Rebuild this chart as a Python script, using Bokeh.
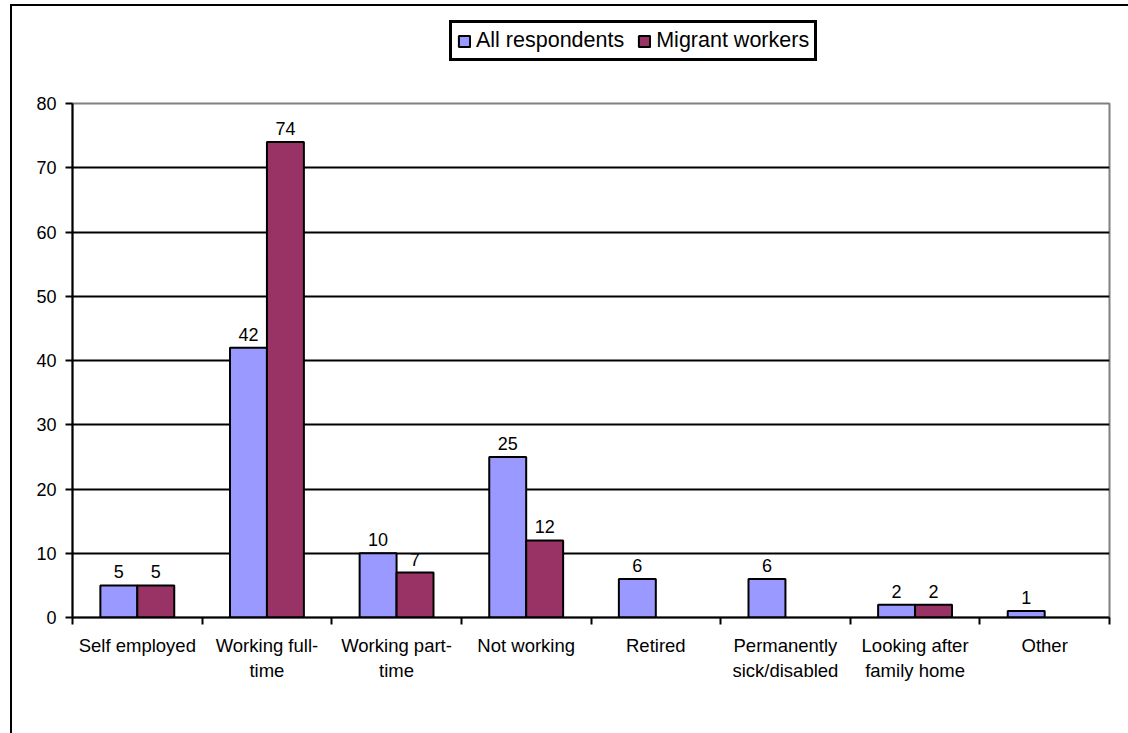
from bokeh.plotting import figure
from bokeh.models import (ColumnDataSource, FixedTicker, Legend, LegendItem,
                          LabelSet, Range1d)
from bokeh.layouts import column
from bokeh.core.properties import value
from bokeh.embed import file_html
from bokeh.resources import INLINE

categories = ["Self employed", "Working full-\ntime", "Working part-\ntime", "Not working",
              "Retired", "Permanently\nsick/disabled", "Looking after\nfamily home", "Other"]
all_respondents = [5, 42, 10, 25, 6, 6, 2, 1]
migrant_workers = [5, 74, 7, 12, 0, 0, 2, 0]
series_names = ["All respondents", "Migrant workers"]
y_ticks = [0, 10, 20, 30, 40, 50, 60, 70, 80]

BLUE = "#9999FF"
MAROON = "#993366"
FONT = "Liberation Sans"

n = len(categories)
centers = [i + 0.5 for i in range(n)]
bw = 0.285

src_a = ColumnDataSource(dict(x=[c - bw / 2 for c in centers], top=all_respondents,
                              lab=[str(v) for v in all_respondents]))
mig_x = [c + bw / 2 for c, v in zip(centers, migrant_workers) if v > 0]
mig_v = [v for v in migrant_workers if v > 0]
src_m = ColumnDataSource(dict(x=mig_x, top=mig_v, lab=[str(v) for v in mig_v]))

W = 1116
TOP_H = 85

# ---- top strip holding the legend ----
top = figure(width=W, height=TOP_H, output_backend="svg", toolbar_location=None,
             x_range=Range1d(0, 1), y_range=Range1d(0, 1),
             min_border_left=0, min_border_right=0, min_border_top=0, min_border_bottom=0)
top.axis.visible = False
top.grid.visible = False
top.outline_line_color = None
top.background_fill_color = "white"
top.border_fill_color = "white"
# hidden legend proxies styled like the chart's bars
la = top.vbar(x=[0.5], top=[0.5], width=0.1, fill_color=BLUE,
              line_color="black", line_width=2, visible=False)
lm = top.vbar(x=[0.5], top=[0.5], width=0.1, fill_color=MAROON,
              line_color="black", line_width=2, visible=False)
legend = Legend(items=[LegendItem(label=series_names[0], renderers=[la]),
                       LegendItem(label=series_names[1], renderers=[lm])],
                location=(377, TOP_H - 55), orientation="horizontal",
                label_text_font=FONT, label_text_font_size="21.5px", label_text_color="black",
                glyph_width=14, glyph_height=14, spacing=13, label_standoff=5,
                padding=5, margin=0, label_height=20,
                inactive_fill_alpha=0,
                border_line_color="black", border_line_width=3, border_line_alpha=1,
                background_fill_color="white", background_fill_alpha=1)
top.add_layout(legend, "center")

# ---- main chart ----
p = figure(width=W, height=733 - 6 - TOP_H, output_backend="svg", toolbar_location=None,
           x_range=Range1d(0, n), y_range=Range1d(0, 80),
           min_border_left=60, min_border_right=19, min_border_top=103 - 6 - TOP_H,
           min_border_bottom=116)
p.background_fill_color = "white"
p.border_fill_color = "white"
p.outline_line_color = "#808080"
p.outline_line_width = 2

ra = p.vbar(x="x", top="top", width=bw, source=src_a, fill_color=BLUE, line_color="black", line_width=2)
rm = p.vbar(x="x", top="top", width=bw, source=src_m, fill_color=MAROON, line_color="black", line_width=2)

for src in (src_a, src_m):
    p.add_layout(LabelSet(x="x", y="top", text="lab", source=src, y_offset=7,
                          text_align="center", text_baseline="bottom",
                          text_font=value(FONT), text_font_size=value("18px"),
                          text_color="black"))

p.xaxis.ticker = FixedTicker(ticks=centers, minor_ticks=list(range(n + 1)))
p.xaxis.major_label_overrides = {c: lab for c, lab in zip(centers, categories)}
p.xaxis.major_tick_out = 0
p.xaxis.major_tick_in = 0
p.xaxis.minor_tick_out = 7
p.xaxis.minor_tick_in = 0
p.xaxis.minor_tick_line_width = 2
p.xaxis.axis_line_width = 2
p.xaxis.major_label_standoff = 10
p.xaxis.major_label_text_font = FONT
p.xaxis.major_label_text_font_size = "18.5px"
p.xaxis.major_label_text_color = "black"

p.yaxis.ticker = FixedTicker(ticks=y_ticks)
p.yaxis.major_tick_out = 7
p.yaxis.major_tick_in = 0
p.yaxis.major_tick_line_width = 2
p.yaxis.minor_tick_line_color = None
p.yaxis.axis_line_width = 2
p.yaxis.major_label_standoff = 9
p.yaxis.major_label_text_font = FONT
p.yaxis.major_label_text_font_size = "18px"
p.yaxis.major_label_text_color = "black"

p.xgrid.grid_line_color = None
p.ygrid.ticker = FixedTicker(ticks=y_ticks[1:-1])
p.ygrid.grid_line_color = "black"
p.ygrid.grid_line_width = 2

layout = column(top, p, spacing=0)
layout.margin = (4, 0, 0, 10)
layout.styles = {"border-left": "2px solid black", "border-top": "2px solid black"}

open("out.html", "w").write(file_html(layout, INLINE))
